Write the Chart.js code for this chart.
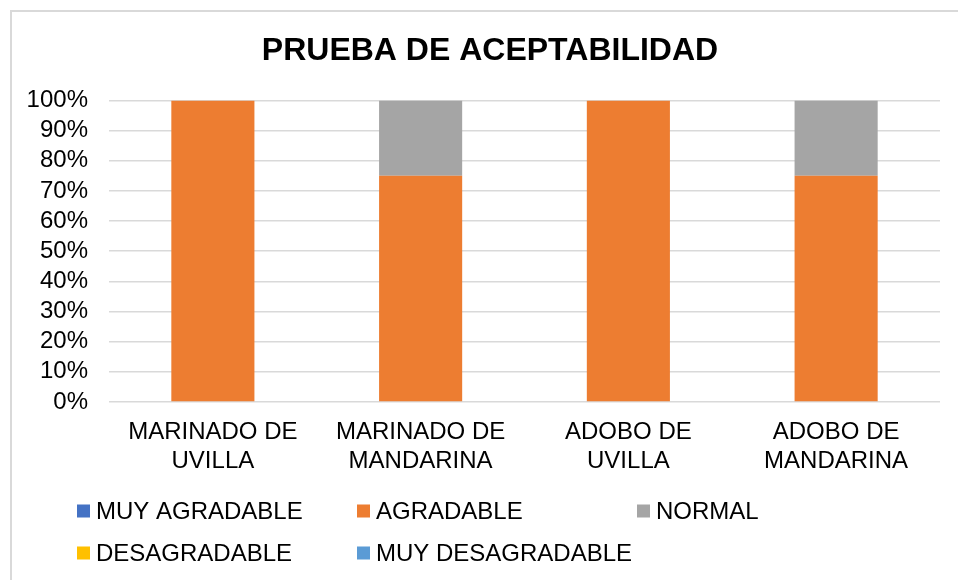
<!DOCTYPE html>
<html>
<head>
<meta charset="utf-8">
<script src="https://cdn.jsdelivr.net/npm/chart.js@4/dist/chart.umd.min.js"></script>
<style>
  body { margin: 0; background: #fff; }
  #wrap { position: relative; width: 958px; height: 580px; overflow: hidden; }
  #frame { position: absolute; left: 10px; top: 10px; width: 1000px; height: 700px; border: 2px solid #d9d9d9; box-sizing: border-box; }
  canvas { position: absolute; left: 0; top: 0; }
</style>
</head>
<body>
<div id="wrap">
  <div id="frame"></div>
  <canvas id="chart" width="958" height="580"></canvas>
</div>
<script>
// Chart values
const categories = [
    ['MARINADO DE', 'UVILLA'],
    ['MARINADO DE', 'MANDARINA'],
    ['ADOBO DE', 'UVILLA'],
    ['ADOBO DE', 'MANDARINA']
];
const seriesNames = ['MUY AGRADABLE', 'AGRADABLE', 'NORMAL', 'DESAGRADABLE', 'MUY DESAGRADABLE'];
const seriesColors = ['#4472c4', '#ed7d31', '#a5a5a5', '#ffc000', '#5b9bd5'];
const muyAgradable = [0, 0, 0, 0];
const agradable = [100, 75, 100, 75];
const normal = [0, 25, 0, 25];
const desagradable = [0, 0, 0, 0];
const muyDesagradable = [0, 0, 0, 0];
const seriesValues = [muyAgradable, agradable, normal, desagradable, muyDesagradable];

const FONT = "'Liberation Sans', Arial, sans-serif";

// Legend drawn in a fixed grid, like the office chart
const gridLegend = {
    id: 'gridLegend',
    afterLayout(chart) {
        // centre the title over the whole frame, not just the padded box
        if (chart.titleBlock) chart.titleBlock.left = 40;
    },
    afterDraw(chart) {
        const ctx = chart.ctx;
        const cols = [77, 357, 637];
        const rows = [511, 553];
        ctx.save();
        ctx.font = '24px ' + FONT;
        ctx.textBaseline = 'middle';
        chart.data.datasets.forEach((ds, i) => {
            const x = cols[i % 3];
            const y = rows[Math.floor(i / 3)];
            ctx.fillStyle = ds.backgroundColor;
            ctx.fillRect(x, y - 6.5, 13, 13);
            ctx.fillStyle = '#000';
            ctx.fillText(ds.label, x + 19, y + 1);
        });
        ctx.restore();
    }
};

const ctx = document.getElementById('chart').getContext('2d');
new Chart(ctx, {
    type: 'bar',
    data: {
        labels: categories,
        datasets: seriesNames.map((name, i) => ({
            label: name,
            data: seriesValues[i],
            backgroundColor: seriesColors[i],
            barPercentage: 0.4,
            categoryPercentage: 1
        }))
    },
    options: {
        responsive: false,
        animation: false,
        layout: { padding: { left: 20, right: 18, top: 0, bottom: 88 } },
        plugins: {
            legend: { display: false },
            tooltip: { enabled: false },
            title: {
                display: true,
                text: 'PRUEBA DE ACEPTABILIDAD',
                color: '#000',
                font: { family: FONT, size: 32, weight: 'bold', lineHeight: 1.2 },
                padding: { top: 32, bottom: 30 }
            }
        },
        scales: {
            x: {
                stacked: true,
                grid: { display: false, drawTicks: false },
                border: { display: false },
                ticks: {
                    color: '#000',
                    padding: 16,
                    maxRotation: 0,
                    font: { family: FONT, size: 24, lineHeight: 1.2 }
                },
                afterFit(scale) { scale.height = 90; }
            },
            y: {
                stacked: true,
                min: 0,
                max: 100,
                grid: { color: '#d9d9d9', lineWidth: 1.5, drawTicks: false },
                border: { display: false },
                ticks: {
                    stepSize: 10,
                    autoSkip: false,
                    color: '#000',
                    padding: 21,
                    font: { family: FONT, size: 24 },
                    callback: v => v + '%'
                },
                afterFit(scale) { scale.width = 89; }
            }
        }
    },
    plugins: [gridLegend]
});
</script>
</body>
</html>
